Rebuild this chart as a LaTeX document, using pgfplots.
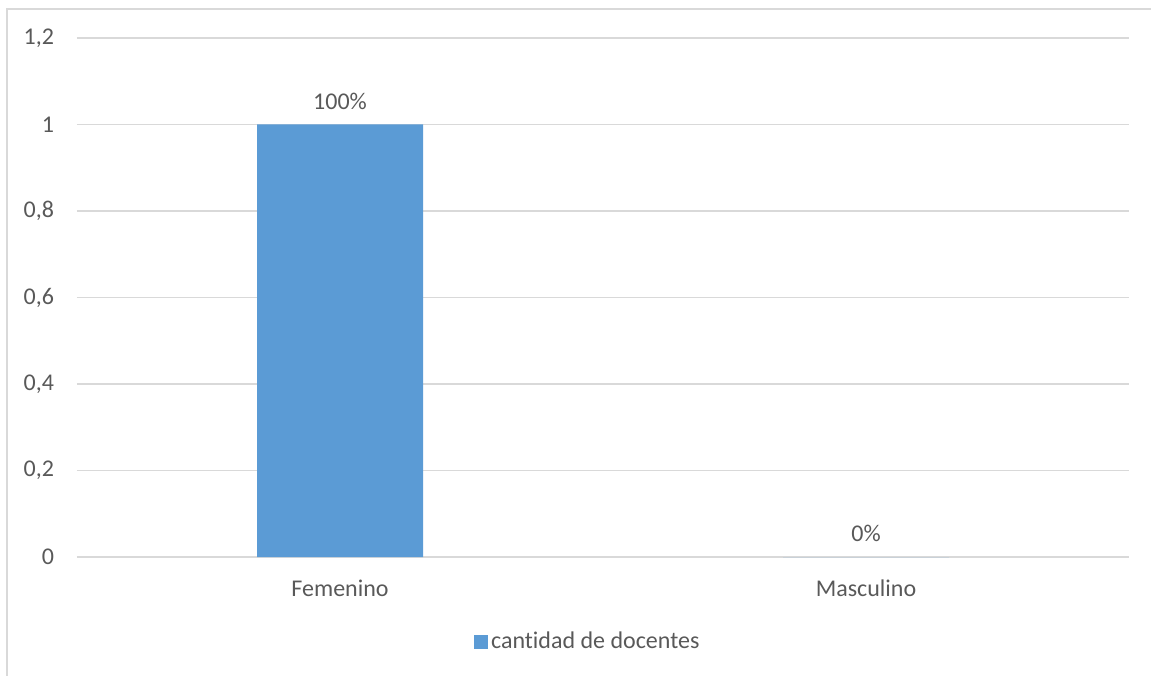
\documentclass[border=0pt]{standalone}
\usepackage{pgfplots}
\pgfplotsset{compat=1.18}
\usepackage{fontspec}
\setmainfont{Carlito}[Ligatures={NoCommon}]
\definecolor{barblue}{HTML}{5B9BD5}
\definecolor{gridgray}{HTML}{D9D9D9}
\definecolor{txtgray}{HTML}{595959}
\begin{document}
\begin{tikzpicture}
\useasboundingbox (0,0) rectangle (575.5pt,337.5pt);
\begin{scope}
\clip (0,0) rectangle (575.5pt,337.5pt);
\draw[gridgray, line width=1pt] (3.5pt,-2pt) -- (3.5pt,333pt) -- (580pt,333pt);
\end{scope}
\begin{axis}[
  at={(38.5pt,59pt)}, anchor=south west,
  scale only axis, width=526pt, height=259.5pt,
  xmin=-0.5, xmax=1.5, ymin=0, ymax=1.2,
  xtick={0,1}, xticklabels={Femenino,Masculino},
  ytick={0,0.2,0.4,0.6,0.8,1,1.2},
  axis line style={draw=none},
  major tick length=0pt,
  ymajorgrids, grid style={gridgray, line width=0.7pt},
  /pgf/number format/use comma,
  /pgf/number format/assume math mode=true,
  tick label style={font=\fontsize{12}{14}\selectfont, text=txtgray},
  yticklabel style={xshift=-8pt},
  xticklabel style={yshift=-8pt},
  ybar, bar width=83pt,
  nodes near coords={\pgfplotspointmeta},
  point meta=explicit symbolic,
  nodes near coords style={font=\fontsize{12}{14}\selectfont, text=txtgray, yshift=4pt},
  legend style={at={(0.486,-0.164)}, anchor=center, draw=none, fill=none,
    font=\fontsize{12}{14}\selectfont, text=txtgray,
    nodes={inner xsep=1.5pt}},
  legend image code/.code={\fill[#1] (0pt,-3.5pt) rectangle (7pt,3.5pt);},
]
\addplot[fill=barblue, draw=none] coordinates {(0,1) [100\%] (1,0) [0\%]};
\addlegendentry{cantidad de docentes}
\end{axis}
\end{tikzpicture}
\end{document}
